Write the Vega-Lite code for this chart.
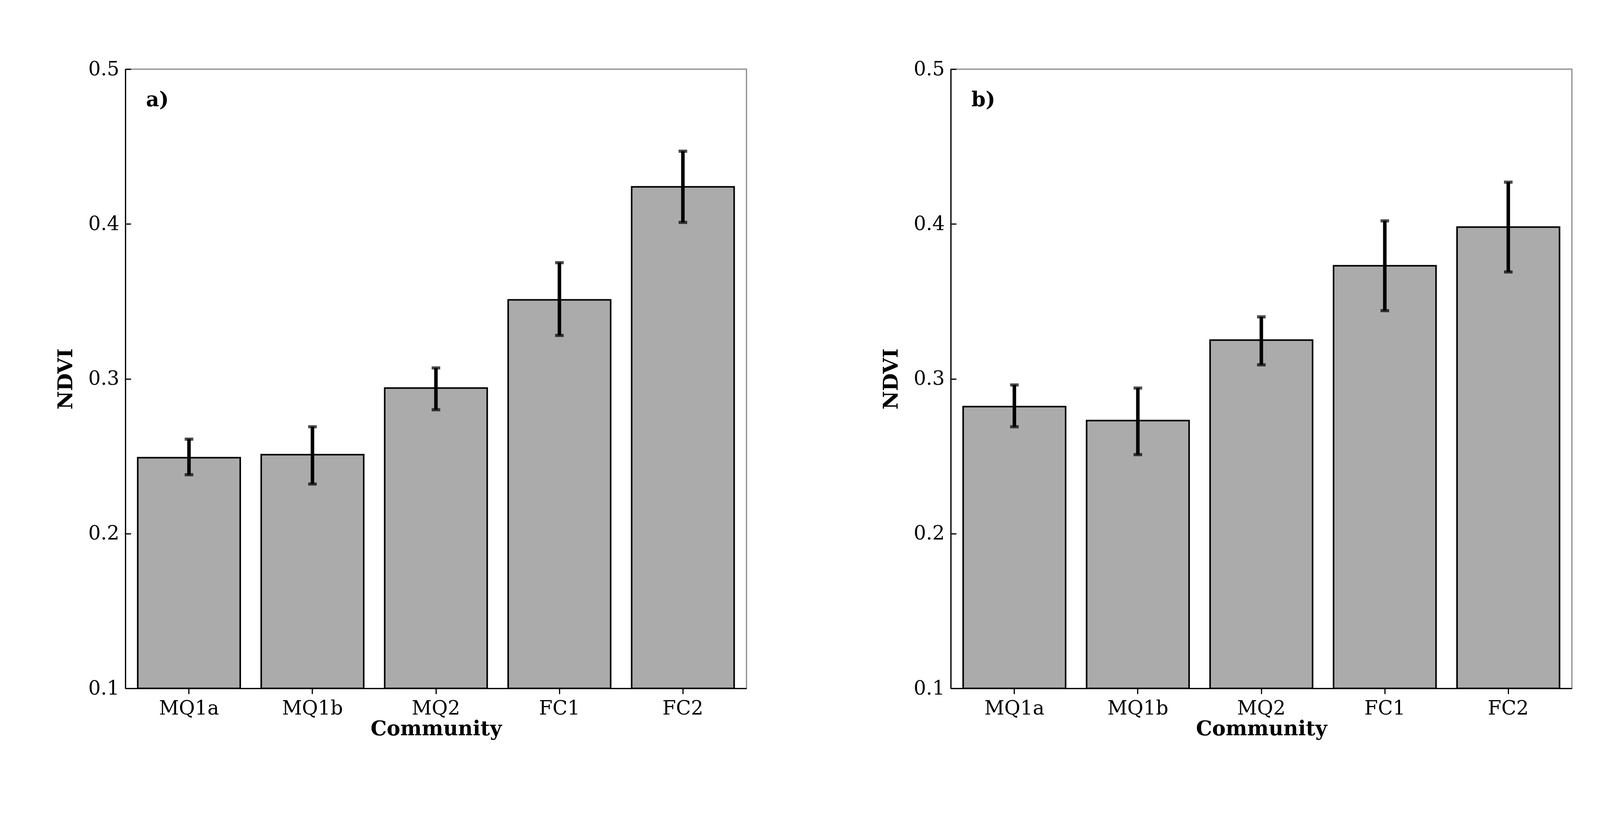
{
  "$schema": "https://vega.github.io/schema/vega-lite/v6.json",
  "background": "white",
  "padding": {"left": 140, "top": 150, "right": 20, "bottom": 10},
  "config": {
    "font": "DejaVu Serif",
    "view": {"stroke": "#888", "strokeWidth": 3},
    "axis": {"labelFont": "DejaVu Serif", "titleFont": "DejaVu Serif", "labelFontSize": 50, "titleFontSize": 52, "titleFontWeight": "bold", "labelColor": "black", "titleColor": "black", "domainColor": "black", "tickColor": "black", "domainWidth": 3, "tickWidth": 3, "tickSize": 14, "grid": false}
  },
  "datasets": {
    "ndvi": [
      {"panel": "a", "community": "MQ1a", "ndvi": 0.249, "lo": 0.238, "hi": 0.261},
      {"panel": "a", "community": "MQ1b", "ndvi": 0.251, "lo": 0.232, "hi": 0.269},
      {"panel": "a", "community": "MQ2", "ndvi": 0.294, "lo": 0.280, "hi": 0.307},
      {"panel": "a", "community": "FC1", "ndvi": 0.351, "lo": 0.328, "hi": 0.375},
      {"panel": "a", "community": "FC2", "ndvi": 0.424, "lo": 0.401, "hi": 0.447},
      {"panel": "b", "community": "MQ1a", "ndvi": 0.282, "lo": 0.269, "hi": 0.296},
      {"panel": "b", "community": "MQ1b", "ndvi": 0.273, "lo": 0.251, "hi": 0.294},
      {"panel": "b", "community": "MQ2", "ndvi": 0.325, "lo": 0.309, "hi": 0.340},
      {"panel": "b", "community": "FC1", "ndvi": 0.373, "lo": 0.344, "hi": 0.402},
      {"panel": "b", "community": "FC2", "ndvi": 0.398, "lo": 0.369, "hi": 0.427}
    ]
  },
  "hconcat": [
    {
      "width": 1590,
      "height": 1585,
      "data": {"name": "ndvi"},
      "transform": [{"filter": "datum.panel === 'a'"}],
      "encoding": {
        "x": {"field": "community", "type": "nominal", "sort": null, "title": "Community", "scale": {"paddingInner": 0.17, "paddingOuter": 0.1}, "axis": {"labelAngle": 0, "titlePadding": 2, "labelPadding": 12}}
      },
      "layer": [
        {"mark": {"type": "bar", "fill": "#ababab", "stroke": "black", "strokeWidth": 4},
         "encoding": {"y": {"field": "ndvi", "type": "quantitative", "title": "NDVI", "scale": {"domain": [0.1, 0.5]}, "axis": {"values": [0.1, 0.2, 0.3, 0.4, 0.5], "format": ".1f", "titlePadding": 30, "tickSize": -14, "labelPadding": 30}}, "y2": {"datum": 0.1}}},
        {"mark": {"type": "rule", "strokeWidth": 9, "color": "black"},
         "encoding": {"y": {"field": "lo", "type": "quantitative"}, "y2": {"field": "hi"}}},
        {"mark": {"type": "tick", "thickness": 8, "size": 22, "color": "black"},
         "encoding": {"y": {"field": "lo", "type": "quantitative"}}},
        {"mark": {"type": "tick", "thickness": 8, "size": 22, "color": "black"},
         "encoding": {"y": {"field": "hi", "type": "quantitative"}}},
        {"data": {"values": [{"label": "a)", "community": "MQ1a", "y": 0.48}]},
         "mark": {"type": "text", "fontWeight": "bold", "fontSize": 52, "align": "left", "dx": -110},
         "encoding": {"text": {"field": "label"}, "y": {"field": "y", "type": "quantitative"}}}
      ]
    },
    {
      "width": 1590,
      "height": 1585,
      "data": {"name": "ndvi"},
      "transform": [{"filter": "datum.panel === 'b'"}],
      "encoding": {
        "x": {"field": "community", "type": "nominal", "sort": null, "title": "Community", "scale": {"paddingInner": 0.17, "paddingOuter": 0.1}, "axis": {"labelAngle": 0, "titlePadding": 2, "labelPadding": 12}}
      },
      "layer": [
        {"mark": {"type": "bar", "fill": "#ababab", "stroke": "black", "strokeWidth": 4},
         "encoding": {"y": {"field": "ndvi", "type": "quantitative", "title": "NDVI", "scale": {"domain": [0.1, 0.5]}, "axis": {"values": [0.1, 0.2, 0.3, 0.4, 0.5], "format": ".1f", "titlePadding": 30, "tickSize": -14, "labelPadding": 30}}, "y2": {"datum": 0.1}}},
        {"mark": {"type": "rule", "strokeWidth": 9, "color": "black"},
         "encoding": {"y": {"field": "lo", "type": "quantitative"}, "y2": {"field": "hi"}}},
        {"mark": {"type": "tick", "thickness": 8, "size": 22, "color": "black"},
         "encoding": {"y": {"field": "lo", "type": "quantitative"}}},
        {"mark": {"type": "tick", "thickness": 8, "size": 22, "color": "black"},
         "encoding": {"y": {"field": "hi", "type": "quantitative"}}},
        {"data": {"values": [{"label": "b)", "community": "MQ1a", "y": 0.48}]},
         "mark": {"type": "text", "fontWeight": "bold", "fontSize": 52, "align": "left", "dx": -110},
         "encoding": {"text": {"field": "label"}, "y": {"field": "y", "type": "quantitative"}}}
      ]
    }
  ],
  "spacing": 340
}
